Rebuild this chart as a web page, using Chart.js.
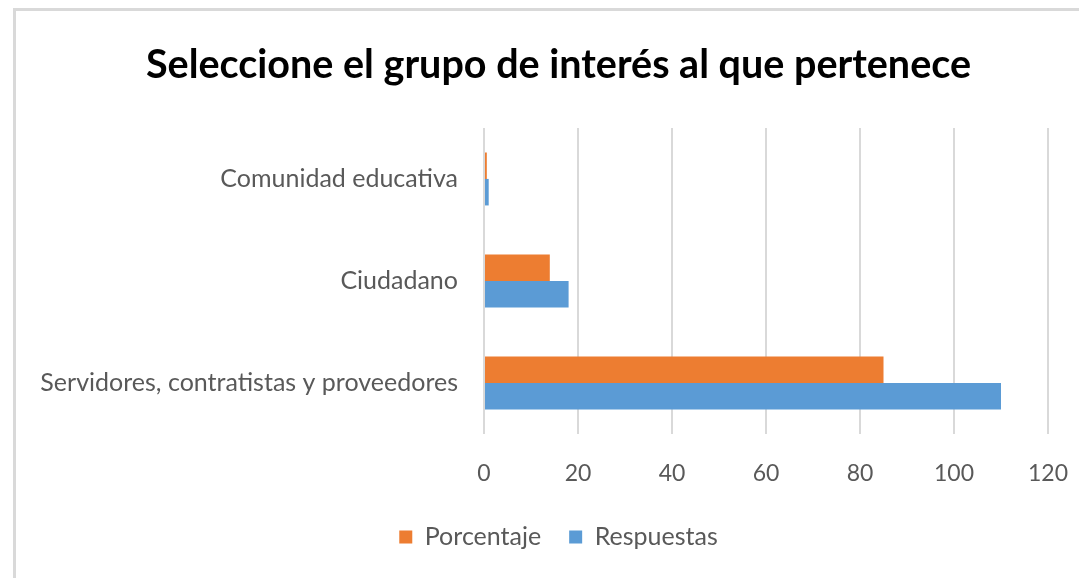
<!DOCTYPE html>
<html>
<head>
<meta charset="utf-8">
<script src="https://cdn.jsdelivr.net/npm/chart.js@4/dist/chart.umd.min.js"></script>
<style>
  html, body { margin: 0; padding: 0; background: #fff; }
  #wrap { position: relative; width: 1079px; height: 578px; overflow: hidden; }
  #frame {
    position: absolute; left: 13px; top: 8px; width: 1200px; height: 700px;
    border-top: 3px solid #d9d9d9; border-left: 3px solid #d9d9d9;
    pointer-events: none;
  }
  canvas { position: absolute; left: 0; top: 0; }
</style>
</head>
<body>
<div id="wrap">
  <canvas id="chart" width="1079" height="578"></canvas>
  <div id="frame"></div>
</div>
<script>
// ── data ──────────────────────────────────────────────────────────────────
const categories = ['Comunidad educativa', 'Ciudadano', 'Servidores, contratistas y proveedores'];
const porcentaje = [0.6, 14, 85];
const respuestas = [1, 18, 110];
const xTicks     = [0, 20, 40, 60, 80, 100, 120];

const orange = '#ED7D31';
const blue   = '#5B9BD5';
const grid   = '#d9d9d9';
const text   = '#595959';
const font   = 'Lato, "Open Sans", sans-serif';

new Chart(document.getElementById('chart'), {
  type: 'bar',
  data: {
    labels: categories,
    datasets: [
      { label: 'Porcentaje', data: porcentaje, backgroundColor: orange,
        barPercentage: 1, categoryPercentage: 0.52 },
      { label: 'Respuestas', data: respuestas, backgroundColor: blue,
        barPercentage: 1, categoryPercentage: 0.52 }
    ]
  },
  options: {
    responsive: false,
    animation: false,
    indexAxis: 'y',
    layout: { padding: { top: 42, left: 40, right: 2, bottom: 18.5 } },
    scales: {
      x: {
        min: 0, max: 120,
        afterBuildTicks: s => { s.ticks = xTicks.map(v => ({ value: v })); },
        afterFit: s => { s.height = 62.5; s.paddingLeft = 0; s.paddingRight = 31; },
        grid: { color: grid, lineWidth: 2, drawTicks: false },
        border: { display: false },
        ticks: { color: text, padding: 26, font: { family: font, size: 23 } }
      },
      y: {
        afterFit: s => { s.width = 444; },
        grid: { display: false },
        border: { display: false },
        ticks: { color: text, padding: 18, font: { family: font, size: 25 } }
      }
    },
    plugins: {
      title: {
        display: true,
        text: 'Seleccione el grupo de interés al que pertenece',
        color: '#000',
        font: { family: font, size: 39.5, weight: 'bold' },
        padding: { top: 0, bottom: 38.5 }
      },
      legend: {
        position: 'bottom',
        labels: {
          color: text,
          boxWidth: 13, boxHeight: 13,
          padding: 28,
          font: { family: font, size: 25 }
        }
      },
      tooltip: { enabled: false }
    }
  }
});
</script>
</body>
</html>
